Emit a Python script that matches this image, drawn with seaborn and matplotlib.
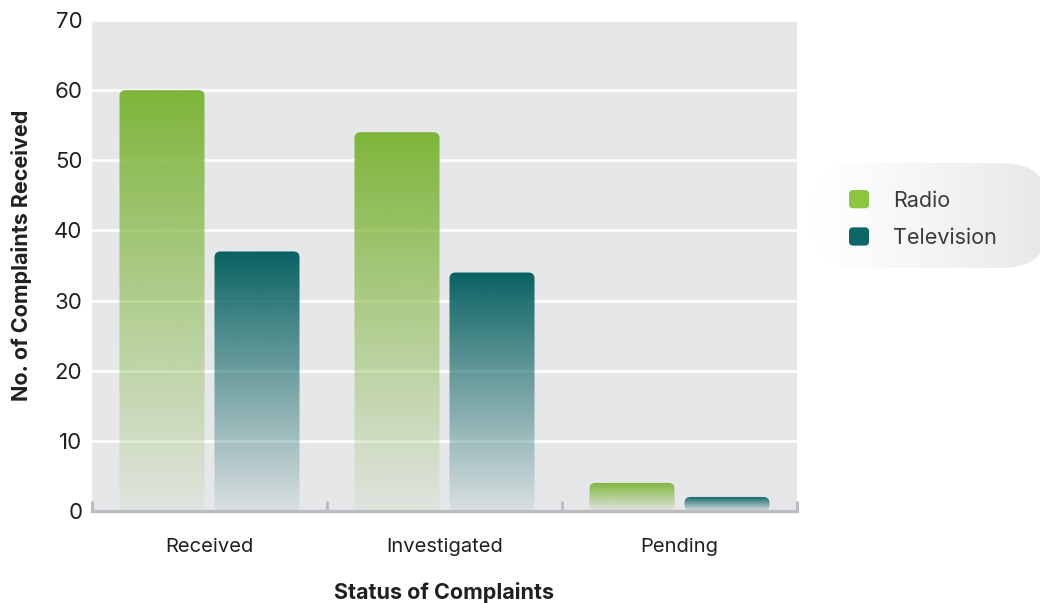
import numpy as np
import pandas as pd
import matplotlib
matplotlib.use("Agg")
import matplotlib.pyplot as plt
import seaborn as sns
from matplotlib.patches import FancyBboxPatch, Patch
from matplotlib.legend_handler import HandlerPatch
from matplotlib.colors import to_rgb

# Complaint counts by status and medium
statuses = ["Received", "Investigated", "Pending"]
media = ["Radio", "Television"]
radio = [60, 54, 4]
television = [37, 34, 2]
y_ticks = [0, 10, 20, 30, 40, 50, 60, 70]

bar_colors = {"Radio": "#7db538", "Television": "#076161"}
key_colors = {"Radio": "#8cc63f", "Television": "#0e6767"}
text_color = "#231f20"
axis_grey = "#bcbdc0"

df = pd.DataFrame({
    "status": statuses * 2,
    "count": radio + television,
    "medium": ["Radio"] * len(statuses) + ["Television"] * len(statuses),
})

sns.set_theme(style="darkgrid", rc={
    "axes.facecolor": "#e6e7e9",
    "grid.color": "white",
    "grid.linewidth": 1.8,
})
plt.rcParams["font.family"] = ["Inter", "DejaVu Sans"]

W, H = 1040, 603
fig = plt.figure(figsize=(W / 100, H / 100), dpi=100)
fig.patch.set_facecolor("white")

# Decorative overlay in pixel coordinates for the key panel
deco = fig.add_axes([0, 0, 1, 1], zorder=0)
deco.set_xlim(0, W)
deco.set_ylim(H, 0)
deco.axis("off")

ax = fig.add_axes([92 / W, 1 - 511 / H, 705 / W, 491 / H], zorder=1)
sns.barplot(data=df, x="status", y="count", hue="medium", order=statuses,
            hue_order=media, palette=bar_colors, saturation=1,
            width=0.8085, gap=0.105, ax=ax, legend=False)
ax.set_xlim(-0.5, len(statuses) - 0.5)
ax.set_ylim(0, 70)
ax.set_yticks(y_ticks)
ax.grid(axis="x", visible=False)
ax.set_axisbelow(True)

# Replace flat bars with vertical fades and rounded corners
x_per_px = len(statuses) / 705
y_per_px = 70 / 491
aspect = y_per_px / x_per_px
radius = 6 * x_per_px
for bar in list(ax.patches):
    x0, w, h = bar.get_x(), bar.get_width(), bar.get_height()
    rgb = to_rgb(bar.get_facecolor())
    bar.set_visible(False)
    clip = FancyBboxPatch((x0, 0), w, h,
                          boxstyle=f"round,pad=0,rounding_size={radius}",
                          mutation_aspect=aspect, facecolor="none",
                          edgecolor="none", transform=ax.transData)
    ax.add_patch(clip)
    t = np.linspace(0, 1, 256)
    grad = np.zeros((256, 1, 4))
    grad[..., :3] = rgb
    grad[..., 3] = (1.0 - 0.94 * t ** 0.95)[:, None]
    im = ax.imshow(grad, extent=[x0, x0 + w, 0, h], origin="upper",
                   aspect="auto", zorder=2, interpolation="bilinear")
    im.set_clip_path(clip)
ax.set_xlim(-0.5, len(statuses) - 0.5)
ax.set_ylim(0, 70)

# Axis styling
for side in ["top", "right", "left"]:
    ax.spines[side].set_visible(False)
ax.spines["bottom"].set_visible(True)
ax.spines["bottom"].set_color(axis_grey)
ax.spines["bottom"].set_linewidth(2.4)
ax.set_xticks(np.arange(-0.5, len(statuses), 1.0), minor=True)
ax.tick_params(axis="x", which="minor", direction="in", length=7,
               width=2.2, color=axis_grey, bottom=True)
ax.tick_params(axis="x", which="major", length=0, pad=19.5, labelsize=14.5,
               labelcolor=text_color)
ax.tick_params(axis="y", length=0, pad=7, labelsize=16, labelcolor=text_color)

ax.set_xlabel("Status of Complaints", fontsize=15.5, fontweight="bold",
              color=text_color)
ax.set_ylabel("No. of Complaints Received", fontsize=15.5, fontweight="bold",
              color=text_color)
ax.xaxis.set_label_coords(0.5, -0.144)
ax.yaxis.set_label_coords(-0.085, 0.52)

# Key panel: soft rounded box fading in from the left
panel = FancyBboxPatch((812, 163), 238, 105,
                       boxstyle="round,pad=0,rounding_size=48",
                       facecolor="none", edgecolor="none",
                       transform=deco.transData)
deco.add_patch(panel)
fade = np.ones((1, 256, 3))
end = np.array(to_rgb("#e6e7e9"))
t = np.linspace(0, 1, 256) ** 1.2
fade[0] = (1 - t)[:, None] * 1.0 + t[:, None] * end
pim = deco.imshow(fade, extent=[812, 1050, 268, 163], aspect="auto",
                  interpolation="bilinear")
pim.set_clip_path(panel)
deco.set_xlim(0, W)
deco.set_ylim(H, 0)


class RoundedKey(HandlerPatch):
    def create_artists(self, legend, orig_handle, xdescent, ydescent,
                       width, height, fontsize, trans):
        p = FancyBboxPatch((-xdescent, -ydescent), width, height,
                           boxstyle="round,pad=0,rounding_size=3",
                           facecolor=orig_handle.get_facecolor(),
                           edgecolor="none", transform=trans)
        return [p]


handles = [Patch(facecolor=key_colors[m], label=m) for m in media]
leg = ax.legend(handles=handles, loc="upper left",
                bbox_to_anchor=(849 / W, 1 - 190 / H),
                bbox_transform=fig.transFigure, frameon=False,
                fontsize=15.5, handlelength=0.93, handleheight=0.93,
                handletextpad=1.1, labelspacing=0.78, borderpad=0,
                borderaxespad=0,
                handler_map={Patch: RoundedKey()})
for txt in leg.get_texts():
    txt.set_color("#3a3a3c")

fig.savefig("out.png", dpi=100, facecolor="white")
